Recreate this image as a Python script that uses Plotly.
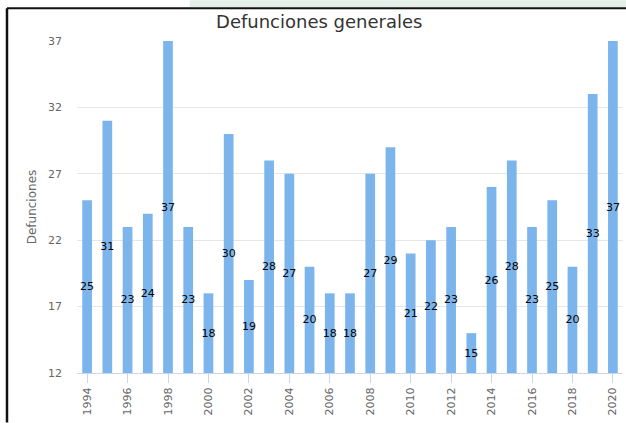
import plotly.graph_objects as go

years = list(range(1994, 2021))
deaths = [25, 31, 23, 24, 37, 23, 18, 30, 19, 28, 27, 20, 18, 18, 27, 29, 21, 22, 23, 15, 26, 28, 23, 25, 20, 33, 37]
y_ticks = [12, 17, 22, 27, 32, 37]
x_ticks = list(range(1994, 2021, 2))

W, H = 626, 423
L, R, T, B = 77.4, 3.4, 40.7, 49.7
pw, ph = W - L - R, H - T - B

def px_x(x):
    return (x - L) / pw

def px_y(y):
    return (H - B - y) / ph

fig = go.Figure()
fig.add_trace(go.Bar(
    x=years, y=[v - 12 for v in deaths], base=12,
    text=[str(v) for v in deaths],
    textposition="inside", insidetextanchor="middle",
    constraintext="none", textangle=0, cliponaxis=False,
    textfont=dict(family="DejaVu Sans", size=11, color="#000000"),
    marker=dict(color="#7cb5ec", line=dict(width=0)),
    hoverinfo="skip",
))

fig.update_layout(
    width=W, height=H,
    margin=dict(l=L, r=R, t=T, b=B, autoexpand=False),
    paper_bgcolor="#ffffff", plot_bgcolor="#ffffff",
    bargap=0.52, showlegend=False,
    title=dict(text="Defunciones generales", x=0.51, xanchor="center",
               y=1 - 22 / H, yanchor="middle",
               font=dict(family="DejaVu Sans", size=18, color="#333333")),
    font=dict(family="DejaVu Sans", color="#666666"),
    shapes=[
        dict(type="rect", xref="paper", yref="paper",
             x0=px_x(190), x1=px_x(626), y0=px_y(0), y1=px_y(7),
             fillcolor="#e4efe9", line=dict(width=0), layer="below"),
        dict(type="line", xref="paper", yref="paper",
             x0=px_x(7.5), x1=px_x(626), y0=px_y(8), y1=px_y(8),
             line=dict(color="#111111", width=2)),
        dict(type="line", xref="paper", yref="paper",
             x0=px_x(7.5), x1=px_x(7.5), y0=px_y(8), y1=px_y(423),
             line=dict(color="#111111", width=2.5)),
    ],
)

fig.update_xaxes(
    range=[1993.5, 2020.5], tickmode="array", tickvals=x_ticks,
    ticktext=[str(t) for t in x_ticks], tickangle=-90,
    ticks="outside", ticklen=9, tickcolor="#ccd6eb", tickwidth=1,
    showline=True, linecolor="#ccd6eb", linewidth=1,
    showgrid=False, zeroline=False,
    tickfont=dict(family="DejaVu Sans", size=11, color="#666666"),
)
fig.update_yaxes(
    range=[12, 37], tickmode="array", tickvals=y_ticks,
    ticktext=[str(t) for t in y_ticks],
    showgrid=True, gridcolor="#e6e6e6", gridwidth=1,
    zeroline=False, showline=False, ticks="", ticklabelstandoff=14,
    tickfont=dict(family="DejaVu Sans", size=11, color="#666666"),
    title=dict(text="Defunciones", standoff=8,
               font=dict(family="DejaVu Sans", size=12, color="#666666")),
)

fig.write_html("out.html", config={"displayModeBar": False},
               post_script="document.body.style.margin='0';document.body.style.overflow='hidden';")
